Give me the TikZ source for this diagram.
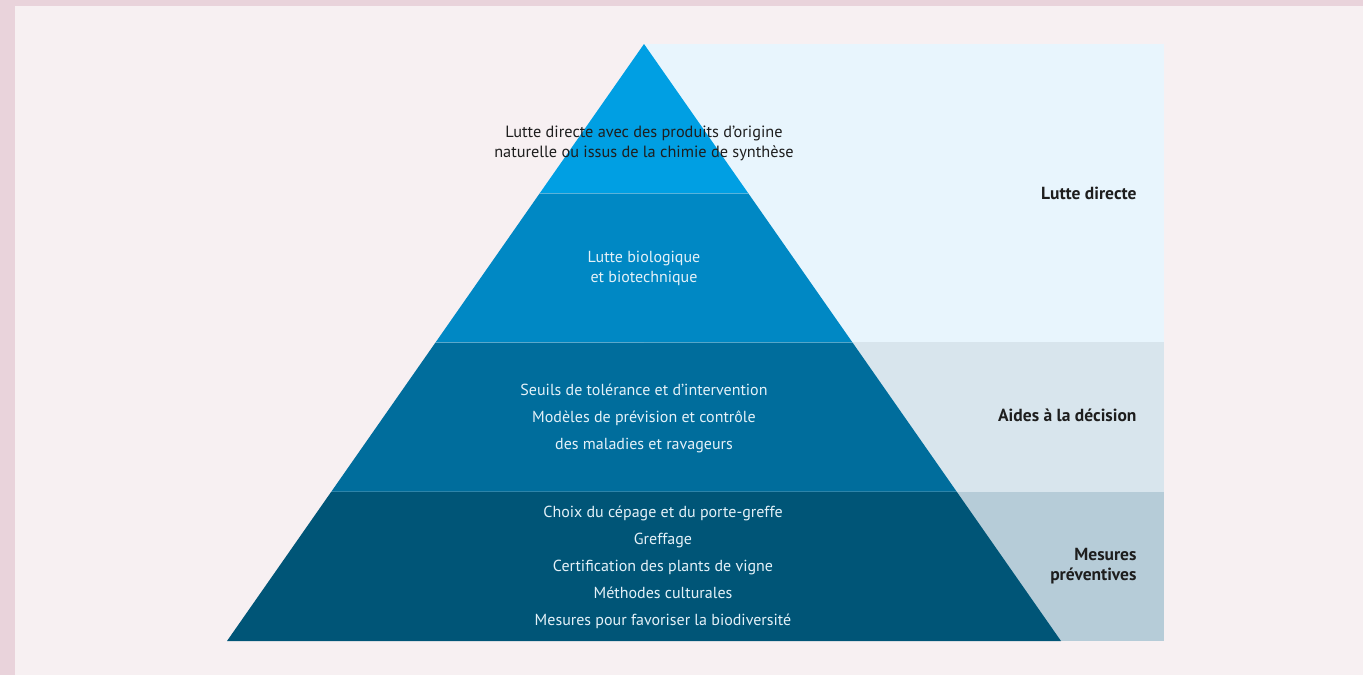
\documentclass[tikz,border=0pt]{standalone}
\usepackage{fontspec}
\setmainfont{PT Sans}
\usepackage{xcolor}
\usetikzlibrary{calc}

\definecolor{pagepink}{HTML}{F7F0F2}
\definecolor{framepink}{HTML}{E9D3DB}
\definecolor{tipblue}{HTML}{009FE3}
\definecolor{biolblue}{HTML}{0088C4}
\definecolor{aideblue}{HTML}{006D9C}
\definecolor{baseblue}{HTML}{005577}
\definecolor{panelA}{HTML}{E8F5FD}
\definecolor{panelB}{HTML}{D8E5ED}
\definecolor{panelC}{HTML}{B6CCD8}
\definecolor{inkdark}{HTML}{1E1E1E}
\definecolor{inklight}{HTML}{E4F1F8}

\tikzset{
  layertext/.style={align=center, text=inklight, font=\fontsize{16}{27}\selectfont},
  levellabel/.style={anchor=east, align=right, text=inkdark, font=\fontsize{17.5}{20}\selectfont\bfseries},
  seam/.style={white, opacity=0.18, line width=0.8pt}
}

\begin{document}
\begin{tikzpicture}[x=1pt,y=-1pt]
    \useasboundingbox (0,0) rectangle (1363,675);

    % Page background
    \fill[pagepink] (0,0) rectangle (1363,675);
    \fill[framepink] (0,0) rectangle (1363,6);
    \fill[framepink] (0,0) rectangle (15,675);

    % Right panel
    \fill[panelA] (644,44) rectangle (1164,342);
    \fill[panelB] (644,342) rectangle (1164,492);
    \fill[panelC] (644,492) rectangle (1164,641);

    % Pyramid
    \coordinate (apex) at (644,44);
    \coordinate (bl) at (227,641);
    \coordinate (br) at (1061,641);
    \coordinate (l1) at ($(apex)!0.25!(bl)$);
    \coordinate (r1) at ($(apex)!0.25!(br)$);
    \coordinate (l2) at ($(apex)!0.5!(bl)$);
    \coordinate (r2) at ($(apex)!0.5!(br)$);
    \coordinate (l3) at ($(apex)!0.75!(bl)$);
    \coordinate (r3) at ($(apex)!0.75!(br)$);

    \fill[tipblue] (apex) -- (r1) -- (l1) -- cycle;
    \fill[biolblue] (l1) -- (r1) -- (r2) -- (l2) -- cycle;
    \fill[aideblue] (l2) -- (r2) -- (r3) -- (l3) -- cycle;
    \fill[baseblue] (l3) -- (r3) -- (br) -- (bl) -- cycle;

    % Seams between layers
    \draw[seam] (l1) -- (r1);
    \draw[seam] (l2) -- (r2);
    \draw[seam] (l3) -- (r3);

    % Layer texts
    \node[align=center, text=inkdark, font=\fontsize{16.3}{20}\selectfont] (tiptext) at (644,143)
        {Lutte directe avec des produits d’origine\\naturelle ou issus de la chimie de synthèse};
    \node[layertext, font=\fontsize{16}{20}\selectfont] (bioltext) at (644,268)
        {Lutte biologique\\et biotechnique};
    \node[layertext] (aidetext) at (644,418)
        {Seuils de tolérance et d’intervention\\Modèles de prévision et contrôle\\des maladies et ravageurs};
    \node[layertext] (basetext) at (663,567)
        {Choix du cépage et du porte-greffe\\Greffage\\Certification des plants de vigne\\Méthodes culturales\\Mesures pour favoriser la biodiversité};

    % Level labels
    \node[levellabel] (luttelabel) at (1140,193) {Lutte directe};
    \node[levellabel] (aidelabel) at (1140,415) {Aides à la décision};
    \node[levellabel] (mesurelabel) at (1140,566) {Mesures\\préventives};

\end{tikzpicture}
\end{document}
